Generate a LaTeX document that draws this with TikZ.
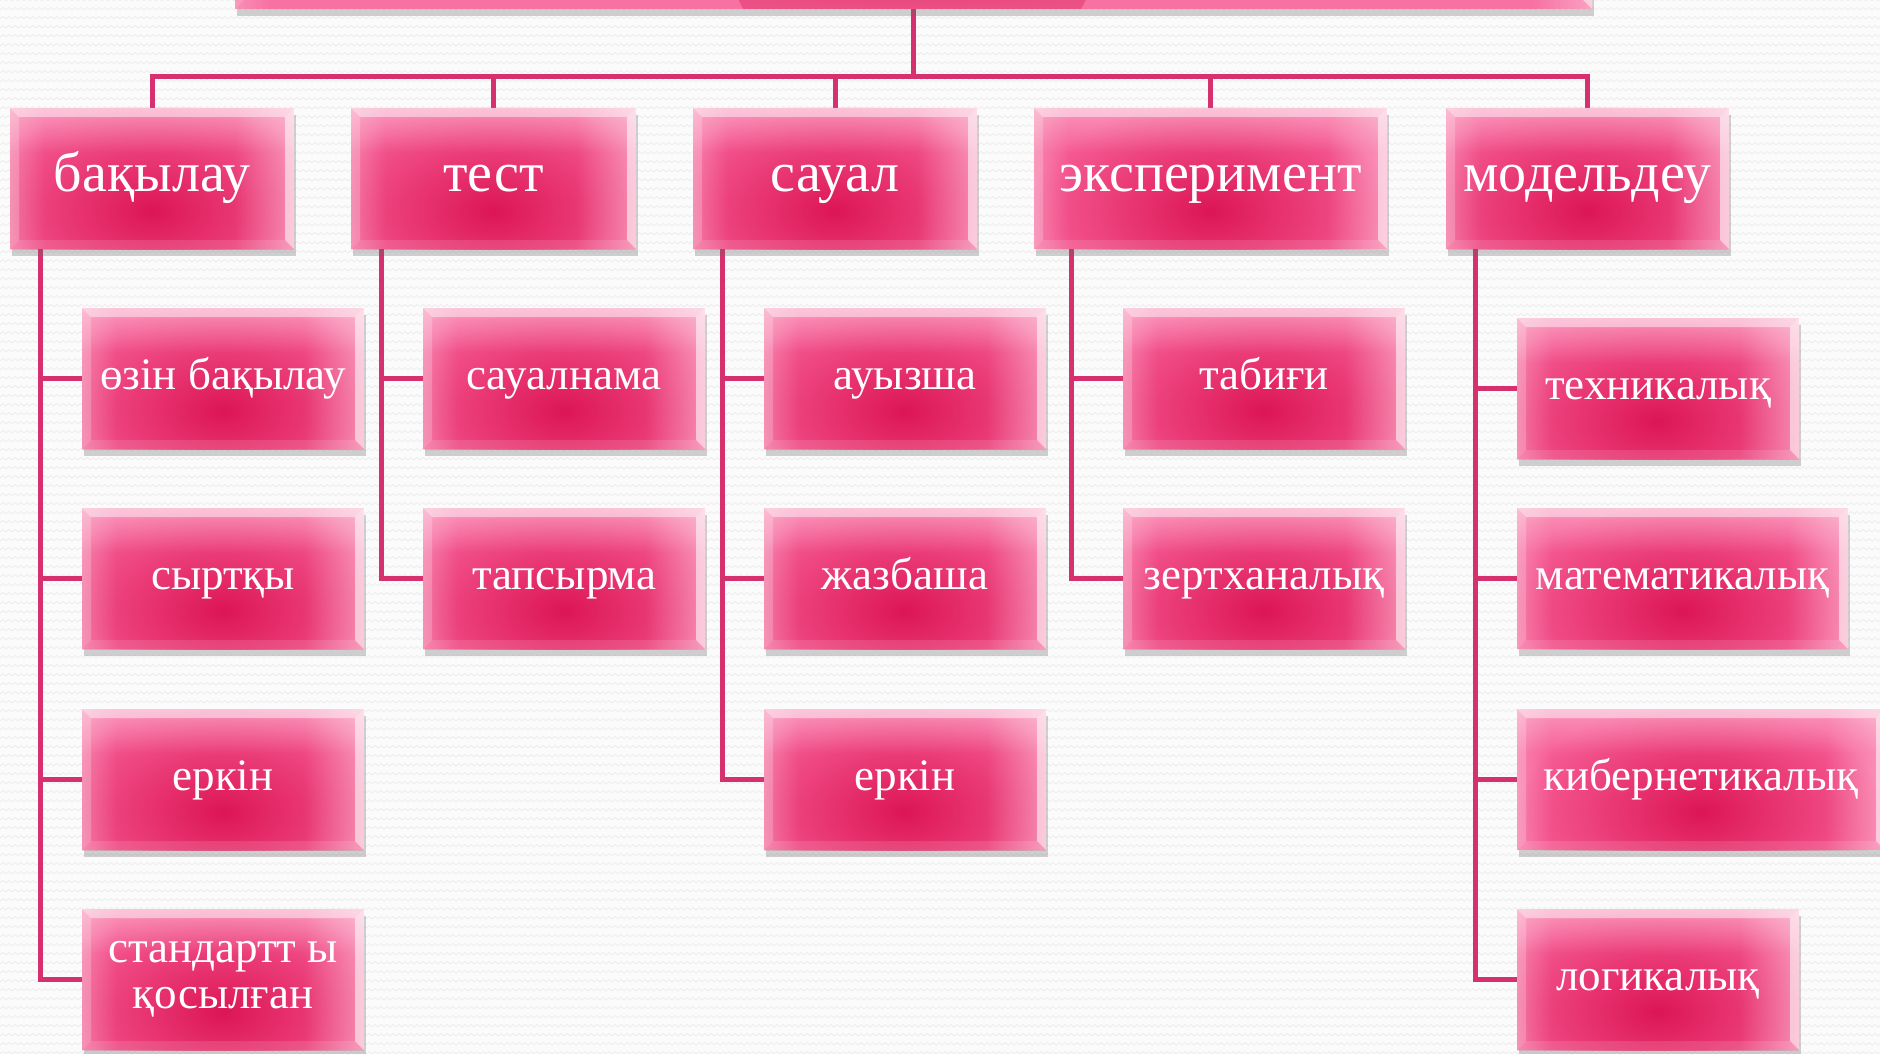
\documentclass[tikz,border=0pt]{standalone}
\usepackage{fontspec}
\setmainfont{Liberation Serif}
\usetikzlibrary{shadows,calc,patterns,fadings}
\definecolor{pkbase}{HTML}{F75E96}
\definecolor{pkdark}{HTML}{DD1656}
\definecolor{conn}{HTML}{D6306F}
\definecolor{bggray}{HTML}{FBFBFB}
\definecolor{zzgray}{HTML}{ECECEC}
\pgfdeclarepatternformonly{zigzag}{\pgfpoint{-1pt}{-1pt}}{\pgfpoint{7pt}{10pt}}{\pgfpoint{6pt}{9pt}}{%
  \pgfsetlinewidth{0.7pt}%
  \pgfpathmoveto{\pgfpoint{0pt}{0pt}}%
  \pgfpathlineto{\pgfpoint{3pt}{2.5pt}}%
  \pgfpathlineto{\pgfpoint{6pt}{0pt}}%
  \pgfusepath{stroke}}
\tikzfading[name=fadedown, top color=transparent!0, bottom color=transparent!100]
\tikzfading[name=faderight, left color=transparent!100, right color=transparent!0]
\tikzfading[name=fadeleft, left color=transparent!0, right color=transparent!100]
\tikzfading[name=blob, inner color=transparent!0, outer color=transparent!100]
\pgfdeclarelayer{bg}
\pgfsetlayers{bg,main}
\tikzset{
  pbox/.style={anchor=north west, fill=pkbase, text=white, align=center,
    inner sep=0pt, outer sep=0pt, minimum height=141pt,
    drop shadow={shadow xshift=2pt, shadow yshift=-7pt, opacity=0.3, fill=black!60},
    path picture={
      \fill[pkdark, path fading=blob]
        ($(path picture bounding box.south)+(0pt,38pt)$) ellipse [x radius=180pt, y radius=110pt];
      \fill[white, opacity=0.35, path fading=fadedown]
        (path picture bounding box.north west) rectangle ($(path picture bounding box.north east)+(0pt,-45pt)$);
      \fill[white, opacity=0.35, path fading=faderight]
        ($(path picture bounding box.north east)+(-60pt,0pt)$) rectangle (path picture bounding box.south east);
      \fill[white, opacity=0.22, path fading=fadeleft]
        (path picture bounding box.north west) rectangle ($(path picture bounding box.south west)+(35pt,0pt)$);
      % bevel
      \fill[white, opacity=0.45]
        (path picture bounding box.north west) -- (path picture bounding box.north east)
        -- ($(path picture bounding box.north east)+(-9pt,-9pt)$) -- ($(path picture bounding box.north west)+(9pt,-9pt)$) -- cycle;
      \fill[white, opacity=0.55]
        (path picture bounding box.north east) -- (path picture bounding box.south east)
        -- ($(path picture bounding box.south east)+(-9pt,9pt)$) -- ($(path picture bounding box.north east)+(-9pt,-9pt)$) -- cycle;
      \fill[white, opacity=0.2]
        (path picture bounding box.north west) -- (path picture bounding box.south west)
        -- ($(path picture bounding box.south west)+(9pt,9pt)$) -- ($(path picture bounding box.north west)+(9pt,-9pt)$) -- cycle;
      \fill[white, opacity=0.12]
        (path picture bounding box.south west) -- (path picture bounding box.south east)
        -- ($(path picture bounding box.south east)+(-9pt,9pt)$) -- ($(path picture bounding box.south west)+(9pt,9pt)$) -- cycle;
    }},
  lvone/.style={pbox, text height=39pt, text depth=13pt, font=\fontsize{56}{60}\selectfont},
  lvtwobase/.style={pbox, minimum width=282pt, font=\fontsize{45}{46}\selectfont},
  lvtwo/.style={lvtwobase, text height=32pt, text depth=11pt},
  link/.style={draw=conn, line width=5pt}
}
\begin{document}
\begin{tikzpicture}[x=1pt, y=-1pt]
\useasboundingbox (0,0) rectangle (1880,1054);
\clip (0,0) rectangle (1880,1054);
\begin{pgfonlayer}{bg}
\fill[bggray] (0,0) rectangle (1880,1054);
\fill[pattern=zigzag, pattern color=zzgray] (0,0) rectangle (1880,1054);
\end{pgfonlayer}

% top (mostly off-canvas) box
\node[pbox, minimum width=1357pt, minimum height=200pt] (top) at (235,-191) {};

% level one
\node[lvone, minimum width=284pt] (b1) at (10,108) {бақылау};
\node[lvone, minimum width=285pt] (b2) at (351,108) {тест};
\node[lvone, minimum width=284pt] (b3) at (693,108) {сауал};
\node[lvone, minimum width=353pt] (b4) at (1034,108) {эксперимент};
\node[lvone, minimum width=283pt] (b5) at (1446,108) {модельдеу};

% level two
\node[lvtwo] (c11) at (82,308) {өзін бақылау};
\node[lvtwo] (c12) at (82,508) {сыртқы};
\node[lvtwo] (c13) at (82,709) {еркін};
\node[lvtwobase] (c14) at (82,909) {стандартт ы\\қосылған};

\node[lvtwo] (c21) at (423,308) {сауалнама};
\node[lvtwo] (c22) at (423,508) {тапсырма};

\node[lvtwo] (c31) at (764,308) {ауызша};
\node[lvtwo] (c32) at (764,508) {жазбаша};
\node[lvtwo] (c33) at (764,709) {еркін};

\node[lvtwo] (c41) at (1123,308) {табиғи};
\node[lvtwo] (c42) at (1123,508) {зертханалық};

\node[lvtwo] (c51) at (1517,318) {техникалық};
\node[lvtwo, minimum width=331pt] (c52) at (1517,508) {математикалық};
\node[lvtwo, minimum width=368pt] (c53) at (1517,709) {кибернетикалық};
\node[lvtwo] (c54) at (1517,909) {логикалық};

\begin{pgfonlayer}{bg}
\coordinate (busy) at (0,77);
\draw[link] (top.south) -- (top.south |- busy);
\draw[link, line cap=rect] (b1.north |- busy) -- (b5.north |- busy);
\foreach \b in {b1,b2,b3,b4,b5} { \draw[link] (\b.north |- busy) -- (\b.north); }

\coordinate (v1) at (40,0);
\coordinate (v2) at (381,0);
\coordinate (v3) at (722,0);
\coordinate (v4) at (1071,0);
\coordinate (v5) at (1475,0);
\draw[link, line join=miter] (v1 |- b1.south) -- (v1 |- c14.west) -- (c14.west);
\foreach \c in {c11,c12,c13} { \draw[link] (v1 |- \c.west) -- (\c.west); }
\draw[link, line join=miter] (v2 |- b2.south) -- (v2 |- c22.west) -- (c22.west);
\draw[link] (v2 |- c21.west) -- (c21.west);
\draw[link, line join=miter] (v3 |- b3.south) -- (v3 |- c33.west) -- (c33.west);
\foreach \c in {c31,c32} { \draw[link] (v3 |- \c.west) -- (\c.west); }
\draw[link, line join=miter] (v4 |- b4.south) -- (v4 |- c42.west) -- (c42.west);
\draw[link] (v4 |- c41.west) -- (c41.west);
\draw[link, line join=miter] (v5 |- b5.south) -- (v5 |- c54.west) -- (c54.west);
\foreach \c in {c51,c52,c53} { \draw[link] (v5 |- \c.west) -- (\c.west); }
\end{pgfonlayer}
\end{tikzpicture}
\end{document}
